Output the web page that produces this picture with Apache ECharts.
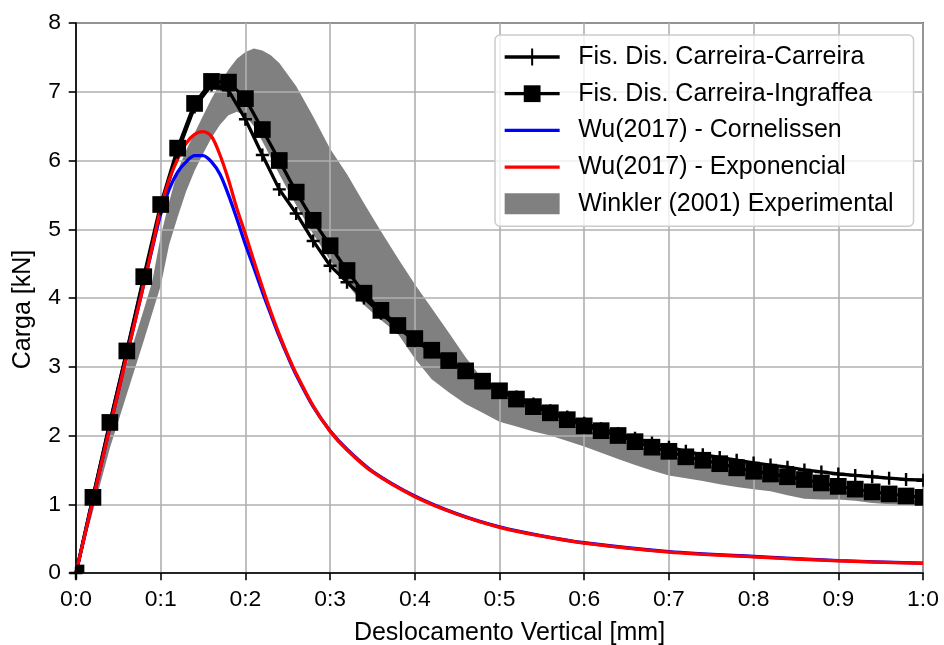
<!DOCTYPE html>
<html>
<head>
<meta charset="utf-8">
<script src="https://cdn.jsdelivr.net/npm/echarts@6/dist/echarts.min.js"></script>
<style>html,body{margin:0;padding:0;background:#fff}#c{width:944px;height:645px}</style>
</head>
<body>
<div id="c"></div>
<script>
// ---------------- data ----------------
const seriesNames = ['Fis. Dis. Carreira-Carreira', 'Fis. Dis. Carreira-Ingraffea', 'Wu(2017) - Cornelissen', 'Wu(2017) - Exponencial', 'Winkler (2001) Experimental'];
const xTickLabels = ['0:0','0:1','0:2','0:3','0:4','0:5','0:6','0:7','0:8','0:9','1:0'];
const yTickLabels = ['0','1','2','3','4','5','6','7','8'];

const fisX = [0,0.02,0.04,0.06,0.08,0.10,0.12,0.14,0.16,0.18,0.20,0.22,0.24,0.26,0.28,0.30,0.32,0.34,0.36,0.38,0.40,0.42,0.44,0.46,0.48,0.50,0.52,0.54,0.56,0.58,0.60,0.62,0.64,0.66,0.68,0.70,0.72,0.74,0.76,0.78,0.80,0.82,0.84,0.86,0.88,0.90,0.92,0.94,0.96,0.98,1.00];
const carreiraCarreira = [0,1.10,2.18,3.22,4.28,5.30,6.12,6.78,7.10,7.02,6.60,6.08,5.58,5.23,4.83,4.47,4.23,4.00,3.78,3.57,3.38,3.22,3.08,2.94,2.80,2.67,2.56,2.46,2.36,2.27,2.18,2.10,2.03,1.96,1.89,1.83,1.77,1.72,1.68,1.64,1.60,1.57,1.54,1.50,1.47,1.44,1.42,1.40,1.38,1.36,1.35];
const carreiraIngraffea = [0,1.10,2.19,3.23,4.31,5.36,6.18,6.83,7.15,7.14,6.90,6.45,6.00,5.54,5.13,4.76,4.40,4.07,3.82,3.60,3.41,3.24,3.09,2.94,2.79,2.65,2.53,2.42,2.33,2.23,2.14,2.07,2.00,1.91,1.83,1.77,1.69,1.64,1.59,1.53,1.48,1.44,1.40,1.36,1.31,1.26,1.22,1.18,1.15,1.12,1.10];

const wuX = [0,0.02,0.04,0.06,0.08,0.09,0.10,0.11,0.12,0.13,0.14,0.15,0.16,0.17,0.18,0.19,0.20,0.21,0.22,0.23,0.24,0.25,0.26,0.28,0.30,0.32,0.35,0.40,0.45,0.50,0.55,0.60,0.70,0.80,0.90,1.00];
const wuCornelissen = [0,1.06,2.12,3.16,4.20,4.72,5.22,5.58,5.83,5.98,6.07,6.07,5.98,5.80,5.50,5.15,4.78,4.44,4.09,3.76,3.44,3.15,2.88,2.42,2.07,1.80,1.48,1.12,0.86,0.67,0.54,0.44,0.31,0.24,0.18,0.145];
const wuExponencial = [0,1.06,2.12,3.16,4.20,4.74,5.30,5.72,6.02,6.25,6.38,6.42,6.35,6.08,5.72,5.30,4.93,4.54,4.16,3.80,3.47,3.17,2.90,2.43,2.06,1.79,1.47,1.11,0.855,0.665,0.535,0.435,0.305,0.235,0.175,0.14];

const bandX = [0,0.02,0.04,0.06,0.08,0.09,0.10,0.11,0.12,0.13,0.14,0.15,0.16,0.17,0.18,0.19,0.20,0.21,0.22,0.23,0.24,0.26,0.28,0.30,0.32,0.34,0.36,0.38,0.40,0.42,0.44,0.46,0.48,0.50,0.52,0.54,0.56,0.58,0.60,0.62,0.64,0.66,0.68,0.70,0.72,0.74,0.76,0.78,0.80,0.82,0.84,0.86,0.88,0.90,0.92,0.94,0.96,0.98,1.00];
const bandUpper = [0,1.20,2.13,3.04,3.83,4.24,4.90,5.40,5.85,6.15,6.40,6.65,6.90,7.12,7.32,7.48,7.58,7.63,7.60,7.53,7.42,7.08,6.64,6.17,5.80,5.38,4.97,4.58,4.20,3.85,3.50,3.14,2.82,2.60,2.48,2.37,2.28,2.18,2.09,2.02,1.95,1.86,1.78,1.72,1.64,1.59,1.54,1.48,1.43,1.39,1.35,1.31,1.26,1.21,1.17,1.13,1.10,1.07,1.05];
const bandLower = [0,0.90,1.82,2.60,3.38,3.78,4.18,4.78,5.18,5.55,5.85,6.10,6.33,6.52,6.66,6.71,6.65,6.50,6.28,6.04,5.80,5.35,4.93,4.55,4.20,3.90,3.68,3.48,3.12,2.82,2.63,2.46,2.33,2.20,2.13,2.06,2.00,1.92,1.84,1.75,1.66,1.57,1.49,1.42,1.38,1.34,1.29,1.25,1.22,1.19,1.13,1.08,1.07,1.07,1.05,1.02,1.00,0.99,0.98];

// ---------------- chart ----------------
const FONT = 'Liberation Sans';
const FS_TICK = 22.9;
const FS_LBL = 25;
const LW = 3.3;
const SQ = 16.7;
const PL = 13;
const plusPath = 'path://M0,-1 L0,1 M-1,0 L1,0';
const plusLeftHalf = 'path://M0,0 L1,0 M1,-1 L1,1';
const sqQuarter = 'path://M0,0 L1,0 L1,1 L0,1 Z';
const sqLeftHalf = 'path://M0,0 L1,0 L1,2 L0,2 Z';

function pairs(xs, ys) { return xs.map((x, i) => [x, ys[i]]); }

const ccData = pairs(fisX, carreiraCarreira).map((p, i, arr) => {
  if (i === arr.length - 1) return { value: p, symbol: plusLeftHalf, symbolSize: [PL / 2, PL], symbolOffset: [-PL / 4, 0] };
  return p;
});
const ciData = pairs(fisX, carreiraIngraffea).map((p, i, arr) => {
  if (i === 0) return { value: p, symbol: sqQuarter, symbolSize: [SQ / 2, SQ / 2], symbolOffset: [SQ / 4, -SQ / 4] };
  if (i === arr.length - 1) return { value: p, symbol: sqLeftHalf, symbolSize: [SQ / 2, SQ], symbolOffset: [-SQ / 4, 0] };
  return p;
});

const chart = echarts.init(document.getElementById('c'), null, { renderer: 'canvas' });
chart.setOption({
  animation: false,
  backgroundColor: '#ffffff',
  textStyle: { fontFamily: FONT },
  grid: { left: 76, right: 21, top: 23, bottom: 72, outerBoundsMode: 'none', containLabel: false, show: true, borderColor: '#000', borderWidth: 1.6, backgroundColor: 'transparent' },
  legend: {
    orient: 'vertical',
    left: 495, top: 35,
    padding: [9.5, 20, 10, 8],
    itemWidth: 55, itemHeight: 21, itemGap: 11.7,
    backgroundColor: 'rgba(255,255,255,0.8)',
    borderColor: '#cccccc', borderWidth: 1.5, borderRadius: 5,
    textStyle: { fontFamily: FONT, fontSize: FS_LBL, color: '#000', padding: [0, 0, 0, 13.5] },
    lineStyle: { width: LW },
    data: [
      { name: seriesNames[0] },
      { name: seriesNames[1] },
      { name: seriesNames[2], itemStyle: { opacity: 0 } },
      { name: seriesNames[3], itemStyle: { opacity: 0 } },
      { name: seriesNames[4], icon: 'rect' }
    ],
    selectedMode: false,
    z: 10
  },
  xAxis: {
    type: 'value', min: 0, max: 1, interval: 0.1,
    name: 'Deslocamento Vertical [mm]', nameLocation: 'middle', nameGap: 48,
    nameTextStyle: { fontFamily: FONT, fontSize: FS_LBL, color: '#000', padding: [0, 0, 0, 20] },
    axisLine: { show: true, onZero: false, lineStyle: { color: '#000', width: 1.6 } },
    axisTick: { show: true, inside: false, length: 7.3, lineStyle: { color: '#000', width: 1.6 } },
    axisLabel: { fontFamily: FONT, fontSize: FS_TICK, color: '#000', margin: 15, formatter: v => xTickLabels[Math.round(v * 10)] },
    splitLine: { show: true, lineStyle: { color: '#b0b0b0', width: 1.6 } },
    z: 1
  },
  yAxis: {
    type: 'value', min: 0, max: 8, interval: 1,
    name: 'Carga [kN]', nameLocation: 'middle', nameGap: 40,
    nameTextStyle: { fontFamily: FONT, fontSize: FS_LBL, color: '#000', padding: [0, 23, 0, 0] },
    axisLine: { show: true, onZero: false, lineStyle: { color: '#000', width: 1.6 } },
    axisTick: { show: true, inside: false, length: 7.3, lineStyle: { color: '#000', width: 1.6 } },
    axisLabel: { fontFamily: FONT, fontSize: FS_TICK, color: '#000', margin: 15, formatter: v => yTickLabels[Math.round(v)] },
    splitLine: { show: true, lineStyle: { color: '#b0b0b0', width: 1.6 } },
    z: 1
  },
  series: [
    {
      name: seriesNames[0], type: 'line', data: ccData, z: 3,
      symbol: plusPath, symbolSize: PL, showSymbol: true, showAllSymbol: true,
      lineStyle: { color: '#000', width: LW },
      itemStyle: { color: '#000', borderColor: '#000', borderWidth: 2.4 },
      emphasis: { disabled: true }, clip: true
    },
    {
      name: seriesNames[1], type: 'line', data: ciData, z: 3,
      symbol: 'rect', symbolSize: SQ, showSymbol: true, showAllSymbol: true,
      lineStyle: { color: '#000', width: LW },
      itemStyle: { color: '#000', borderWidth: 0 },
      emphasis: { disabled: true }, clip: true
    },
    {
      name: seriesNames[2], type: 'line', data: pairs(wuX, wuCornelissen), z: 3,
      symbol: 'none', smooth: 0.3,
      lineStyle: { color: '#0000ff', width: LW },
      itemStyle: { color: '#0000ff' },
      emphasis: { disabled: true }
    },
    {
      name: seriesNames[3], type: 'line', data: pairs(wuX, wuExponencial), z: 3,
      symbol: 'none', smooth: 0.3,
      lineStyle: { color: '#ff0000', width: LW },
      itemStyle: { color: '#ff0000' },
      emphasis: { disabled: true }
    },
    {
      name: seriesNames[4], type: 'custom', coordinateSystem: 'cartesian2d', z: 0,
      data: bandX.map((x, i) => [x, bandLower[i], bandUpper[i]]),
      encode: { x: 0, y: [1, 2] },
      itemStyle: { color: '#808080' },
      renderItem: function (params, api) {
        if (params.dataIndex !== 0) return null;
        const pts = [];
        for (let i = 0; i < bandX.length; i++) pts.push(api.coord([bandX[i], bandUpper[i]]));
        for (let i = bandX.length - 1; i >= 0; i--) pts.push(api.coord([bandX[i], bandLower[i]]));
        return { type: 'polygon', shape: { points: pts }, style: { fill: '#808080' } };
      },
      emphasis: { disabled: true }
    }
  ]
});
</script>
</body>
</html>
